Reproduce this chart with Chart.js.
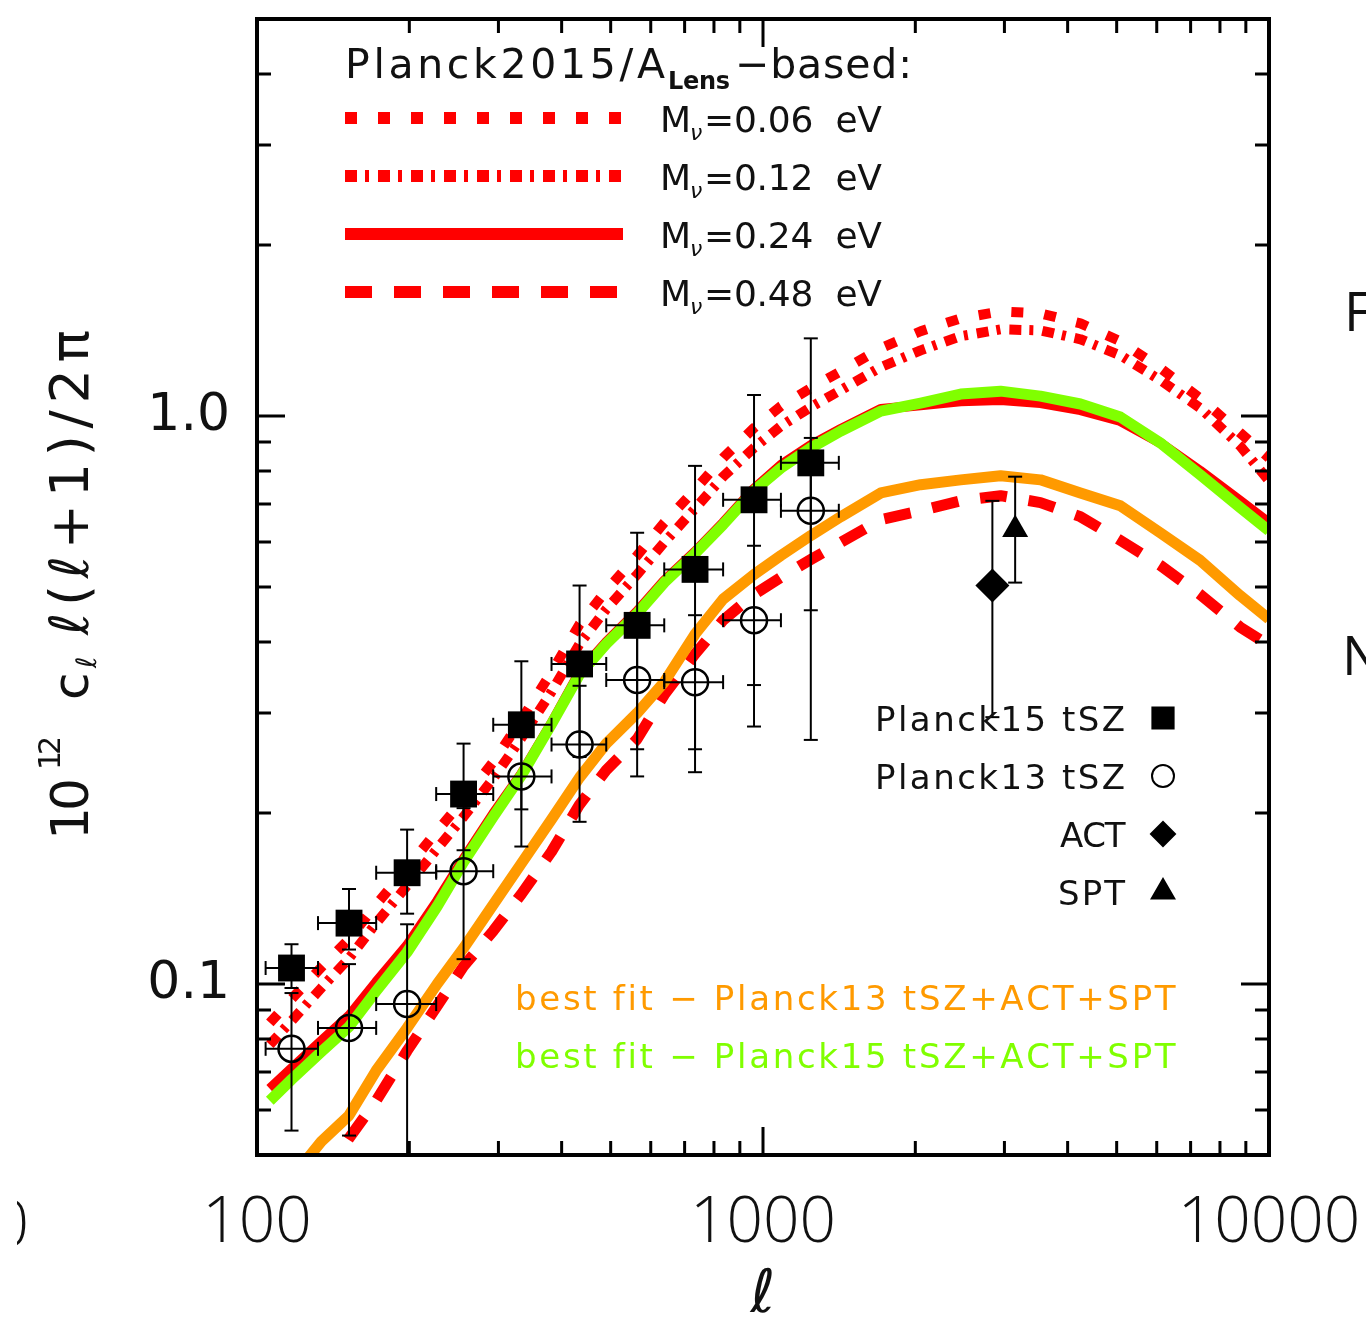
<!DOCTYPE html>
<html>
<head>
<meta charset="utf-8">
<title>tSZ power spectrum</title>
<script src="https://cdn.jsdelivr.net/npm/chart.js@4.4.1/dist/chart.umd.min.js"></script>
<style>
  html, body { margin: 0; padding: 0; background: #fff; }
  #wrap { position: relative; width: 1366px; height: 1320px; overflow: hidden; background: #fff; }
  canvas { display: block; }
</style>
</head>
<body>
<div id="wrap"><canvas id="chart" width="1366" height="1320"></canvas></div>
<script>
const ell = [106, 117, 134, 152, 172, 198, 227, 256, 293, 333, 382, 434, 490, 564, 638, 734, 834, 960, 1085, 1243, 1425, 1709, 2049, 2458, 2948, 3535, 4240, 5084, 6095, 7310, 8767, 10000];

// Planck2015/A_Lens based models
const mnu006 = [0.0854, 0.0941, 0.107, 0.120, 0.138, 0.160, 0.186, 0.211, 0.246, 0.292, 0.354, 0.430, 0.493, 0.568, 0.649, 0.742, 0.844, 0.953, 1.041, 1.120, 1.199, 1.316, 1.410, 1.486, 1.528, 1.516, 1.456, 1.354, 1.214, 1.075, 0.934, 0.844];
const mnu012 = [0.0782, 0.0861, 0.0984, 0.111, 0.128, 0.149, 0.173, 0.197, 0.230, 0.271, 0.327, 0.397, 0.457, 0.526, 0.599, 0.687, 0.782, 0.879, 0.960, 1.037, 1.111, 1.219, 1.305, 1.382, 1.421, 1.415, 1.365, 1.279, 1.157, 1.033, 0.886, 0.769];
const mnu024 = [0.0654, 0.0710, 0.0794, 0.0879, 0.1008, 0.117, 0.140, 0.166, 0.1995, 0.2345, 0.288, 0.354, 0.400, 0.453, 0.513, 0.577, 0.649, 0.745, 0.820, 0.889, 0.949, 1.029, 1.045, 1.062, 1.067, 1.054, 1.024, 0.980, 0.897, 0.801, 0.709, 0.649];
const mnu048 = [null, null, 0.0451, 0.0535, 0.0623, 0.0763, 0.0915, 0.1075, 0.124, 0.144, 0.171, 0.207, 0.238, 0.270, 0.323, 0.381, 0.437, 0.485, 0.520, 0.559, 0.599, 0.657, 0.681, 0.709, 0.724, 0.704, 0.665, 0.604, 0.546, 0.485, 0.425, 0.395];

// best fits
const fitP13 = [null, 0.0455, 0.0528, 0.0587, 0.0704, 0.0837, 0.100, 0.1157, 0.138, 0.163, 0.195, 0.231, 0.265, 0.300, 0.340, 0.413, 0.476, 0.526, 0.568, 0.616, 0.665, 0.732, 0.757, 0.772, 0.785, 0.772, 0.732, 0.695, 0.623, 0.557, 0.483, 0.439];
const fitP15 = [0.0623, 0.0679, 0.0760, 0.0841, 0.0972, 0.1138, 0.137, 0.164, 0.197, 0.233, 0.287, 0.351, 0.397, 0.449, 0.509, 0.573, 0.644, 0.739, 0.810, 0.879, 0.941, 1.020, 1.054, 1.093, 1.106, 1.084, 1.050, 0.996, 0.897, 0.788, 0.690, 0.628];

// Planck tSZ band powers
const ellBin   = [117, 152, 198, 256, 333, 434, 564, 734, 960, 1243];
const ellBinLo = [104, 132, 172, 226, 293, 382, 490, 638, 834, 1085];
const ellBinHi = [132, 172, 226, 293, 382, 490, 638, 834, 1085, 1412];
const tsz15   = [0.1067, 0.128, 0.157, 0.216, 0.286, 0.366, 0.428, 0.537, 0.712, 0.827];
const tsz15Lo = [0.0984, 0.115, 0.133, 0.172, 0.203, 0.251, 0.259, 0.259, 0.336, 0.269];
const tsz15Hi = [0.1175, 0.147, 0.187, 0.265, 0.370, 0.503, 0.623, 0.817, 1.089, 1.370];
const tsz13   = [0.0769, 0.0837, 0.0922, 0.158, 0.232, 0.264, 0.343, 0.340, 0.437, 0.681];
const tsz13Lo = [0.0552, 0.0541, 0.040, 0.1106, 0.1746, 0.193, 0.232, 0.236, 0.284, 0.455];
const tsz13Hi = [0.0964, 0.1084, 0.1274, 0.204, 0.295, 0.335, 0.448, 0.446, 0.591, 0.915];

// ACT and SPT
const ellAct = [2840], act = [0.503], actLo = [0.295], actHi = [0.709];
const ellSpt = [3150], spt = [0.631], sptLo = [0.509], sptHi = [0.782];

// axes
const xTickVals = [100, 200, 300, 400, 500, 600, 700, 800, 900, 1000, 2000, 3000, 4000, 5000, 6000, 7000, 8000, 9000, 10000];
const xMajor = [100, 1000, 10000];
const yTickVals = [0.05, 0.06, 0.07, 0.08, 0.09, 0.1, 0.2, 0.3, 0.4, 0.5, 0.6, 0.7, 0.8, 0.9, 1, 2, 3, 4, 5];
const yMajor = [0.1, 1];
const yMajorLabels = ['0.1', '1.0'];

const RED = '#ff0000', GREEN = '#80ff00', ORANGE = '#ff9a00';

const pts = (xs, ys) => xs.map((v, i) => ({ x: v, y: ys[i] }));

function curve(vals, color, width, dash, order) {
  return {
    data: pts(ell, vals), showLine: true, pointRadius: 0,
    borderColor: color, borderWidth: width, borderDash: dash,
    borderJoinStyle: 'round', fill: false, order: order
  };
}

// draw a string so it spans x0..x1
function spread(ctx, text, x0, x1, yBase, font, color) {
  ctx.font = font;
  const chars = Array.from(text);
  const w = ctx.measureText(text).width;
  const gap = chars.length > 1 ? (x1 - x0 - w) / (chars.length - 1) : 0;
  ctx.fillStyle = color;
  ctx.textAlign = 'left';
  ctx.textBaseline = 'alphabetic';
  let x = x0;
  chars.forEach(ch => { ctx.fillText(ch, x, yBase); x += ctx.measureText(ch).width + gap; });
}

const errorSets = [
  { ell: ellBin, val: tsz15, lo: tsz15Lo, hi: tsz15Hi, eLo: ellBinLo, eHi: ellBinHi },
  { ell: ellBin, val: tsz13, lo: tsz13Lo, hi: tsz13Hi, eLo: ellBinLo, eHi: ellBinHi },
  { ell: ellAct, val: act, lo: actLo, hi: actHi },
  { ell: ellSpt, val: spt, lo: sptLo, hi: sptHi }
];

const errorBars = {
  id: 'errorBars',
  afterDatasetsDraw(chart) {
    const { ctx, chartArea: a, scales: { x, y } } = chart;
    const seg = (x1, y1, x2, y2) => { ctx.beginPath(); ctx.moveTo(x1, y1); ctx.lineTo(x2, y2); ctx.stroke(); };
    ctx.save();
    ctx.beginPath();
    ctx.rect(a.left, a.top, a.right - a.left, a.bottom - a.top);
    ctx.clip();
    ctx.strokeStyle = '#000';
    ctx.lineWidth = 2;
    errorSets.forEach(s => {
      s.ell.forEach((l, i) => {
        const px = x.getPixelForValue(l), py = y.getPixelForValue(s.val[i]);
        const yt = y.getPixelForValue(s.hi[i]), yb = y.getPixelForValue(s.lo[i]);
        seg(px, yt, px, yb);
        seg(px - 7, yt, px + 7, yt);
        seg(px - 7, yb, px + 7, yb);
        if (s.eLo) {
          const xl = x.getPixelForValue(s.eLo[i]), xr = x.getPixelForValue(s.eHi[i]);
          seg(xl, py, xr, py);
          seg(xl, py - 7, xl, py + 7);
          seg(xr, py - 7, xr, py + 7);
        }
      });
    });
    ctx.restore();
  }
};

const frameAndText = {
  id: 'frameAndText',
  afterDraw(chart) {
    const { ctx, chartArea: a, scales: { x, y } } = chart;
    ctx.save();
    // inward ticks on all four sides
    ctx.strokeStyle = '#000';
    ctx.lineWidth = 3;
    ctx.beginPath();
    xTickVals.forEach(v => {
      const px = x.getPixelForValue(v), len = xMajor.includes(v) ? 28 : 14;
      ctx.moveTo(px, a.bottom); ctx.lineTo(px, a.bottom - len);
      ctx.moveTo(px, a.top); ctx.lineTo(px, a.top + len);
    });
    yTickVals.forEach(v => {
      const py = y.getPixelForValue(v), len = yMajor.includes(v) ? 28 : 14;
      ctx.moveTo(a.left, py); ctx.lineTo(a.left + len, py);
      ctx.moveTo(a.right, py); ctx.lineTo(a.right - len, py);
    });
    ctx.stroke();
    ctx.lineWidth = 4;
    ctx.strokeRect(a.left, a.top, a.right - a.left, a.bottom - a.top);

    // y axis title, rotated
    ctx.save();
    ctx.translate(88, 840);
    ctx.rotate(-Math.PI / 2);
    spread(ctx, '10', 0, 62, 0, '52px "DejaVu Sans"', '#111');
    spread(ctx, '12', 70, 104, -28, '30px "DejaVu Sans"', '#111');
    spread(ctx, 'c', 140, 168, 0, '50px "DejaVu Sans"', '#111');
    spread(ctx, 'ℓ', 172, 186, 8, 'italic 28px "DejaVu Sans"', '#111');
    spread(ctx, 'ℓ(ℓ+1)/2π', 205, 510, 0, '54px "DejaVu Sans"', '#111');
    ctx.restore();

    // top legend: models
    spread(ctx, 'Planck2015/A', 345, 665, 78, '41px "DejaVu Sans"', '#111');
    spread(ctx, 'Lens', 668, 730, 89, 'bold 24px "DejaVu Sans"', '#111');
    spread(ctx, '−based:', 735, 912, 78, '41px "DejaVu Sans"', '#111');
    const rows = [
      { y: 118, dash: [12, 21], w: 12, lab: '=0.06  eV' },
      { y: 176, dash: [12, 8, 4, 9], w: 12, lab: '=0.12  eV' },
      { y: 234, dash: [], w: 12, lab: '=0.24  eV' },
      { y: 292, dash: [27, 22], w: 12, lab: '=0.48  eV' }
    ];
    rows.forEach(r => {
      ctx.strokeStyle = RED;
      ctx.lineWidth = r.w;
      ctx.setLineDash(r.dash);
      ctx.beginPath(); ctx.moveTo(345, r.y); ctx.lineTo(623, r.y); ctx.stroke();
      ctx.setLineDash([]);
      spread(ctx, 'M', 660, 688, r.y + 14, '36px "DejaVu Sans"', '#111');
      spread(ctx, 'ν', 690, 702, r.y + 22, 'italic 22px "DejaVu Sans"', '#111');
      spread(ctx, r.lab, 704, 882, r.y + 14, '36px "DejaVu Sans"', '#111');
    });

    // lower legend: data symbols
    const sym = [
      { y: 718, lab: 'Planck15 tSZ', x0: 875, style: 'rect', r: 15, fill: '#000' },
      { y: 776, lab: 'Planck13 tSZ', x0: 875, style: 'circle', r: 11, fill: 'rgba(0,0,0,0)' },
      { y: 834, lab: 'ACT', x0: 1060, style: 'rectRot', r: 12, fill: '#000' },
      { y: 892, lab: 'SPT', x0: 1058, style: 'triangle', r: 13, fill: '#000' }
    ];
    sym.forEach(s => {
      spread(ctx, s.lab, s.x0, 1125, s.y + 13, '34px "DejaVu Sans"', '#111');
      ctx.fillStyle = s.fill;
      ctx.strokeStyle = '#000';
      ctx.lineWidth = 2;
      Chart.helpers.drawPoint(ctx, { pointStyle: s.style, radius: s.r, rotation: 0, borderWidth: 2 }, 1163, s.y);
    });

    spread(ctx, 'best fit − Planck13 tSZ+ACT+SPT', 515, 1175, 1010, '34px "DejaVu Sans"', ORANGE);
    spread(ctx, 'best fit − Planck15 tSZ+ACT+SPT', 515, 1175, 1068, '34px "DejaVu Sans"', GREEN);

    // slide text cut off at the edges
    ctx.fillStyle = '#111';
    ctx.font = '54px "Open Sans"';
    ctx.textBaseline = 'alphabetic';
    ctx.textAlign = 'left';
    ctx.fillText('F', 1344, 331);
    ctx.fillText('N', 1342, 675);
    ctx.save();
    ctx.beginPath();
    ctx.rect(17, 1180, 30, 100);
    ctx.clip();
    ctx.font = '300 64px "Open Sans"';
    ctx.textAlign = 'right';
    ctx.fillText('0', 29, 1246);
    ctx.restore();
    ctx.restore();
  }
};

new Chart(document.getElementById('chart').getContext('2d'), {
  type: 'scatter',
  data: {
    datasets: [
      { data: pts(ellBin, tsz15), pointStyle: 'rect', pointRadius: 19, backgroundColor: '#000', borderColor: '#000', borderWidth: 0, order: 0 },
      { data: pts(ellBin, tsz13), pointStyle: 'circle', pointRadius: 13, backgroundColor: 'rgba(0,0,0,0)', borderColor: '#000', borderWidth: 2.5, order: 0 },
      { data: pts(ellAct, act), pointStyle: 'rectRot', pointRadius: 17, backgroundColor: '#000', borderColor: '#000', borderWidth: 0, order: 0 },
      { data: pts(ellSpt, spt), pointStyle: 'triangle', pointRadius: 15, backgroundColor: '#000', borderColor: '#000', borderWidth: 0, order: 0 },
      curve(fitP15, GREEN, 11, [], 1),
      curve(fitP13, ORANGE, 11, [], 2),
      curve(mnu024, RED, 10, [], 3),
      curve(mnu048, RED, 11, [27, 22], 4),
      curve(mnu012, RED, 10, [12, 8, 4, 9], 5),
      curve(mnu006, RED, 10, [12, 21], 6)
    ]
  },
  options: {
    responsive: false,
    animation: false,
    events: [],
    layout: { padding: { left: 0, right: 97, top: 13, bottom: 0 } },
    plugins: { legend: { display: false }, tooltip: { enabled: false } },
    elements: { line: { tension: 0 } },
    scales: {
      x: {
        type: 'logarithmic', min: 100, max: 10000, position: 'bottom',
        grid: { display: false, drawTicks: false }, border: { display: false },
        afterBuildTicks: s => { s.ticks = xTickVals.map(v => ({ value: v })); },
        afterFit: s => { s.height = 165; s.paddingLeft = 0; s.paddingRight = 0; },
        ticks: {
          autoSkip: false, maxRotation: 0, padding: 30, color: '#111',
          font: { family: 'Open Sans', size: 64, weight: 300 },
          callback: v => (xMajor.includes(v) ? String(v) : '')
        },
        title: {
          display: true, text: 'ℓ', color: '#111',
          font: { family: 'DejaVu Sans', style: 'italic', size: 60, lineHeight: 0.8 },
          padding: { top: 0, bottom: 0 }
        }
      },
      y: {
        type: 'logarithmic', min: 0.05, max: 5, position: 'left',
        grid: { display: false, drawTicks: false }, border: { display: false },
        afterBuildTicks: s => { s.ticks = yTickVals.map(v => ({ value: v })); },
        afterFit: s => { s.width = 257; s.paddingTop = 0; s.paddingBottom = 0; },
        ticks: {
          autoSkip: false, padding: 27, color: '#111',
          font: { family: 'DejaVu Sans', size: 52 },
          callback: v => { const k = yMajor.indexOf(v); return k >= 0 ? yMajorLabels[k] : ''; }
        }
      }
    }
  },
  plugins: [errorBars, frameAndText]
});
</script>
</body>
</html>
